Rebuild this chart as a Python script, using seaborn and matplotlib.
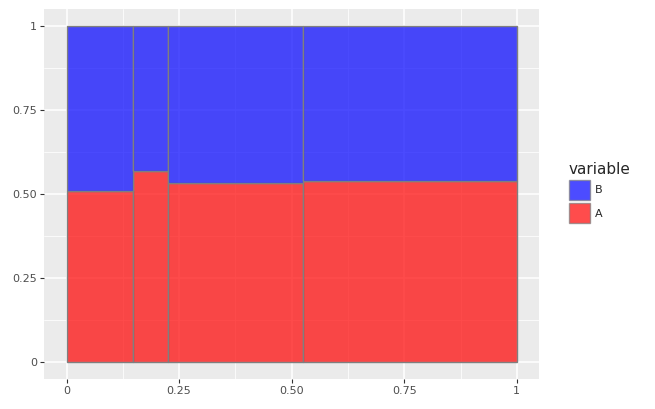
import numpy as np
import pandas as pd
import matplotlib
matplotlib.use("Agg")
import matplotlib.pyplot as plt
import seaborn as sns
from matplotlib.patches import Patch

# column boundaries on the x axis (cumulative widths)
edges = [0.0, 0.148, 0.2256, 0.5256, 1.0]
# share of A in each column, B fills the rest up to 1
share_a = [0.509, 0.569, 0.533, 0.538]
share_b = [1 - v for v in share_a]
variables = ["B", "A"]
colors = {"A": "#FF0000", "B": "#0000FF"}
xticks = [0, 0.25, 0.5, 0.75, 1]
xtick_labels = ["0", "0.25", "0.50", "0.75", "1"]
yticks = [0, 0.25, 0.5, 0.75, 1]
ytick_labels = ["0", "0.25", "0.50", "0.75", "1"]

mids = [(edges[i] + edges[i + 1]) / 2 for i in range(len(share_a))]
df = pd.DataFrame({
    "x": mids * 2,
    "value": share_a + share_b,
    "variable": ["A"] * len(share_a) + ["B"] * len(share_b),
})

sns.set_theme(style="darkgrid", rc={
    "axes.facecolor": "#EBEBEB",
    "grid.color": "white",
    "axes.edgecolor": "#EBEBEB",
})
plt.rcParams["font.family"] = ["DejaVu Sans"]

fig = plt.figure(figsize=(6.55, 4.09), dpi=100)
ax = fig.add_axes([44 / 655, 1 - 379 / 409, 495.3 / 655, 370 / 409])

sns.histplot(
    data=df, x="x", weights="value", hue="variable", hue_order=variables,
    bins=edges, multiple="stack", stat="count", palette=colors,
    alpha=0.7, edgecolor="#7F7F7F", linewidth=1.0, ax=ax, legend=False,
)

ax.set_xlim(-0.05, 1.05)
ax.set_ylim(-0.05, 1.05)
ax.set_xticks(xticks)
ax.set_xticklabels(xtick_labels)
ax.set_yticks(yticks)
ax.set_yticklabels(ytick_labels)
ax.set_xticks([0.125, 0.375, 0.625, 0.875], minor=True)
ax.set_yticks([0.125, 0.375, 0.625, 0.875], minor=True)
ax.grid(which="major", color="white", linewidth=1.1)
ax.grid(which="minor", color="white", linewidth=0.55)
ax.set_axisbelow(True)
ax.set_xlabel("")
ax.set_ylabel("")
ax.tick_params(axis="both", which="major", length=3, width=0.8, color="#333333",
               labelsize=8, labelcolor="#4D4D4D", pad=2, direction="out")
ax.tick_params(axis="both", which="minor", length=0)
ax.tick_params(bottom=True, left=True)
for s in ax.spines.values():
    s.set_visible(False)

# legend keys about 21x20 px like the ggplot guide
handles = [Patch(facecolor=colors[v], alpha=0.7, edgecolor="#7F7F7F", linewidth=1.0)
           for v in variables]
leg = fig.legend(handles, variables, title="variable", loc="upper left",
                 bbox_to_anchor=(563 / 655, 1 - 156 / 409), frameon=False,
                 fontsize=8, title_fontsize=11, handlelength=1.9, handleheight=2.39,
                 handletextpad=0.45, labelspacing=0.3, borderpad=0)
leg._legend_box.align = "left"

fig.savefig("out.png", dpi=100)
